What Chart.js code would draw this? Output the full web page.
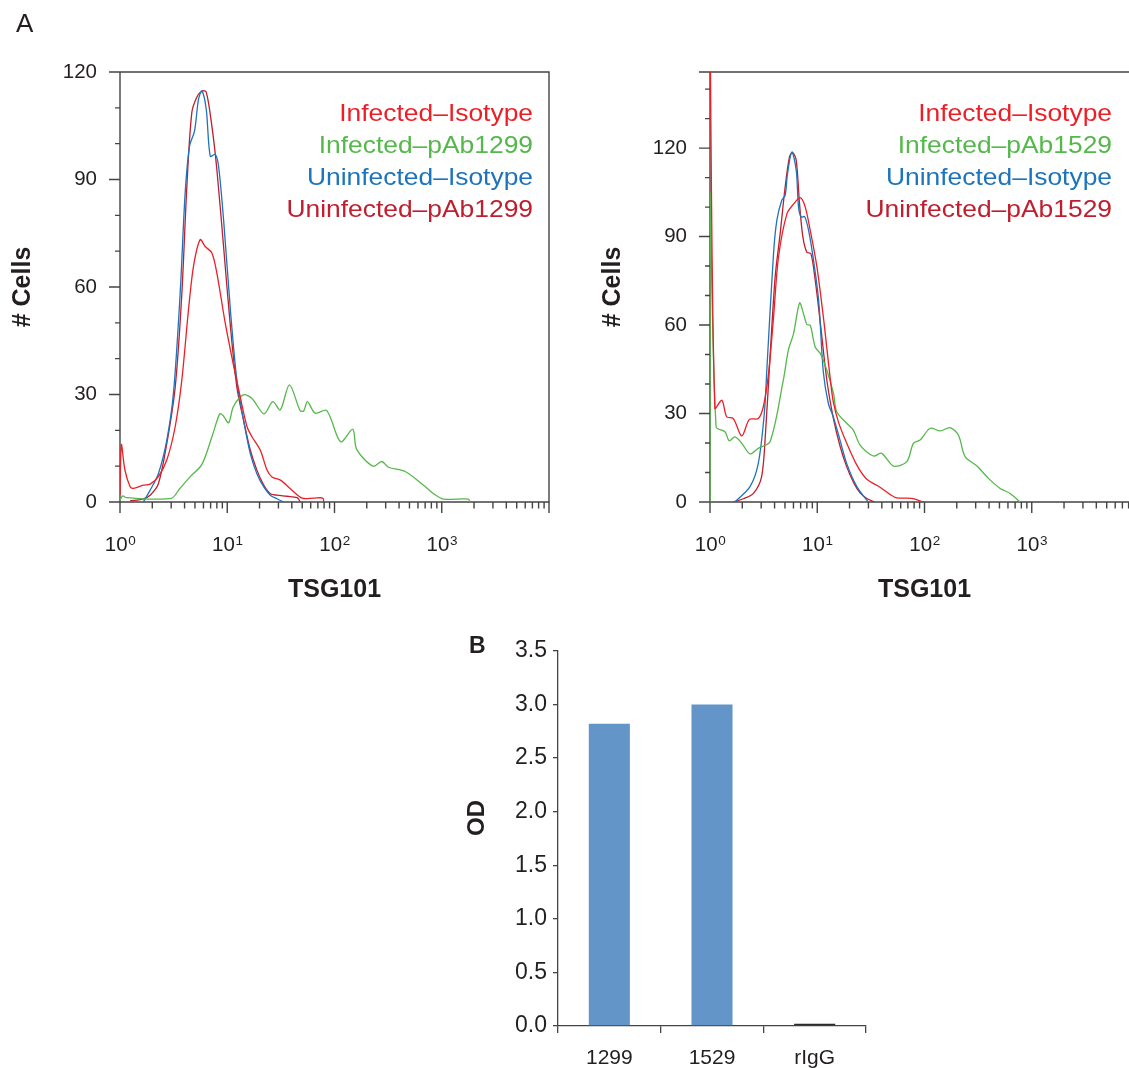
<!DOCTYPE html>
<html>
<head>
<meta charset="utf-8">
<script src="https://cdn.jsdelivr.net/npm/chart.js@4.4.1/dist/chart.umd.min.js"></script>
<style>
  html, body { margin:0; padding:0; background:#fff; }
  #wrap { position:relative; width:1129px; height:1068px; overflow:hidden; background:#fff; }
  .box { position:absolute; }
</style>
</head>
<body>
<div id="wrap">
  <div class="box" style="left:0px; top:0px; width:565px; height:620px"><canvas id="histA1"></canvas></div>
  <div class="box" style="left:590px; top:0px; width:565px; height:620px"><canvas id="histA2"></canvas></div>
  <div class="box" style="left:440px; top:630px; width:460px; height:438px"><canvas id="barB"></canvas></div>
</div>
<script>
// ---- data: panel A, left (pAb1299) ----
const seriesNames1299 = ['Infected\u2013Isotype', 'Infected\u2013pAb1299', 'Uninfected\u2013Isotype', 'Uninfected\u2013pAb1299']
const infIso1299X = [1.0, 1.03, 1.11, 1.24, 1.33, 1.65, 1.91, 2.28, 2.73, 3.27, 3.77, 4.35, 4.84, 5.59, 6.23, 7.19, 8.0, 9.58, 11.5, 13.2, 15.3, 17.0, 20.3, 23.5, 26.1, 31.3, 38.8, 49.9, 64, 77.8, 79.4]
const infIso1299Y = [2, 16, 9, 4.3, 3.8, 4.7, 5.0, 7.1, 11.7, 21, 34, 53.6, 65.7, 73.2, 71.3, 69.5, 63.9, 49.9, 37.8, 29.4, 21, 18.2, 14.5, 8.9, 7, 6.1, 3.7, 1.1, 1.1, 1.1, 0]
const infAb1299X = [1.0, 1.06, 1.15, 3.0, 3.6, 4.5, 5.8, 7.2, 8.5, 9.1, 10.3, 11.4, 14.1, 17.0, 22.0, 26.6, 31.2, 38.0, 47.8, 51.7, 55.9, 65.9, 84.7, 114, 148, 161, 228, 276, 319, 456, 675, 867, 1040, 1770, 1830]
const infAb1299Y = [0.5, 1.7, 1.2, 1.0, 3.7, 7.0, 10.5, 18.2, 24.6, 24.2, 22.1, 26.6, 29.9, 28.9, 24.6, 28.0, 25.7, 32.7, 25.5, 25.4, 28.0, 24.8, 25.5, 16.8, 20.3, 14.7, 10.0, 11.3, 9.7, 8.5, 4.7, 2.0, 0.8, 0.8, 0]
const uninfIso1299X = [1.65, 1.91, 2.28, 2.73, 3.15, 3.64, 4.05, 4.45, 4.95, 5.40, 5.80, 6.37, 6.94, 7.73, 8.30, 9.24, 10.7, 12.3, 14.2, 16.4, 18.9, 21.9, 25.2, 29.1, 33.6]
const uninfIso1299Y = [0, 3.3, 7.9, 17.2, 30.3, 58.3, 86.2, 99.3, 103.5, 112.4, 114.7, 109.6, 96.5, 97, 93.7, 78.8, 53.6, 34, 22.8, 13.5, 7.9, 4.2, 1.9, 0.9, 0]
const uninfAb1299X = [1.24, 1.65, 1.91, 2.28, 2.73, 3.27, 3.77, 4.20, 4.67, 5.21, 5.80, 6.37, 7.19, 8.0, 9.24, 10.7, 12.3, 14.2, 16.4, 18.9, 21.9, 25.2, 29.1, 36.1, 44.8, 48.1]
const uninfAb1299Y = [0.3, 0.9, 1.9, 5.1, 16.3, 32, 58, 88, 108.6, 113, 114.7, 114.4, 104.9, 92.8, 71.3, 49, 32, 22.8, 14.5, 8.9, 4.7, 2.3, 1.9, 1.6, 1.2, 0]

// ---- data: panel A, right (pAb1529) ----
const seriesNames1529 = ['Infected\u2013Isotype', 'Infected\u2013pAb1529', 'Uninfected\u2013Isotype', 'Uninfected\u2013pAb1529']
const infIso1529X = [1.0, 1.11, 1.29, 1.43, 1.65, 1.98, 2.33, 2.82, 3.14, 3.5, 3.9, 4.35, 5.21, 6.01, 6.94, 7.73, 8.61, 9.93, 11.5, 12.3, 13.2, 14.1, 15.8, 18.8, 23.4, 29.0, 38.5, 48.0, 55.0, 76.0, 98.0]
const infIso1529Y = [160, 31.8, 34.5, 28.9, 28.3, 22.4, 28.0, 28.3, 32.3, 43, 62, 83, 97.7, 101, 103.2, 100, 92, 79.7, 61.6, 52, 42, 34, 27, 20, 12.5, 7.7, 5, 2.5, 1.4, 1.2, 0]
const infAb1529X = [1.0, 1.0, 1.14, 1.38, 1.51, 1.71, 1.98, 2.36, 2.82, 3.63, 4.83, 5.38, 6.01, 6.84, 7.45, 8.0, 8.61, 9.58, 10.7, 12.3, 14.2, 15.2, 18.8, 21.7, 25.1, 33.4, 39.9, 51.3, 68.4, 78.8, 91, 113, 140, 173, 207, 239, 308, 395, 507, 629, 780]
const infAb1529Y = [0, 105, 25.5, 23.8, 20.7, 22.1, 19.9, 16.3, 18.2, 20.4, 41.4, 51.5, 57.1, 67.5, 63.8, 60.2, 59.9, 52.5, 50.3, 44.6, 36.7, 30.6, 26.7, 24.4, 19.3, 15.6, 16.5, 12.2, 13.7, 19.9, 21, 25.0, 24.1, 25.2, 22.7, 15.4, 12.2, 8.0, 4.6, 2.9, 0]
const uninfIso1529X = [1.71, 2.36, 2.82, 3.21, 3.39, 3.91, 4.2, 4.67, 5.02, 5.28, 5.80, 6.37, 6.69, 7.09, 7.62, 8.3, 9.24, 10.3, 11.4, 12.7, 14.1, 16.3, 18.8, 23.4, 29.0, 30.0]
const uninfIso1529Y = [0, 5.2, 13.1, 30.1, 45, 84.2, 95.5, 102.3, 104, 111.3, 118.6, 112.4, 100, 96.6, 96.8, 92.1, 81.9, 68.4, 44, 33.4, 28.9, 21, 13.1, 5.2, 0.6, 0]
const uninfAb1529X = [1.65, 2.05, 2.54, 3.03, 3.3, 3.64, 4.05, 4.51, 5.02, 5.51, 5.88, 6.37, 6.84, 7.35, 8.0, 8.73, 9.58, 10.7, 12.3, 14.2, 16.3, 18.8, 21.9, 25.2, 29.0, 34.0]
const uninfAb1529Y = [0, 1.1, 2.9, 8.6, 24, 50, 76.3, 91, 106.8, 117, 118.6, 115.8, 101, 89.8, 84.7, 84.2, 75.1, 60.5, 41.2, 28, 19, 12, 6.5, 3, 1.2, 0]

const decadeExponents = [0, 1, 2, 3]

// ---- data: panel B ----
const odLabels = ['1299', '1529', 'rIgG']
const odValues = [2.82, 3.0, 0.02]

const fam = '"Liberation Sans", Arial, Helvetica, sans-serif'
const textColor = '#231f20'
const axisColor = '#444444'
const curveColors = ['#ed1f26', '#55b84b', '#1d74bb', '#bf1e2e']
Chart.defaults.font.family = fam

const pts = (xs, ys) => xs.map((v, i) => ({ x: v, y: ys[i] }))

// frame, ticks, labels and legend for the histograms
const histDecor = {
  id: 'histDecor',
  beforeDatasetsDraw(chart, args, o) {
    const { ctx, chartArea: a } = chart
    ctx.save()
    ctx.strokeStyle = axisColor
    ctx.lineWidth = 1.4
    ctx.beginPath()
    ctx.moveTo(a.left - o.topExtend, a.top); ctx.lineTo(a.right, a.top)
    ctx.lineTo(a.right, a.bottom); ctx.lineTo(a.left, a.bottom)
    ctx.moveTo(a.left, a.top); ctx.lineTo(a.left, a.bottom)
    ctx.stroke()
    ctx.restore()
  },
  afterDraw(chart, args, o) {
    const { ctx, chartArea: a, scales: { x, y } } = chart
    ctx.save()
    ctx.strokeStyle = axisColor
    ctx.lineWidth = 1.4
    ctx.beginPath()
    for (let v = 0; v <= y.max; v += o.yStep) {
      const py = y.getPixelForValue(v)
      ctx.moveTo(a.left - (v % o.yMajor === 0 ? 11 : 5), py); ctx.lineTo(a.left, py)
    }
    for (let d = 0; d <= 4; d++) {
      for (let m = 1; m <= 9; m++) {
        const v = m * Math.pow(10, d)
        if (v > x.max * 1.001) continue
        const px = x.getPixelForValue(v)
        ctx.moveTo(px, a.bottom); ctx.lineTo(px, a.bottom + (m === 1 ? 11 : 6.5))
      }
    }
    ctx.stroke()

    ctx.fillStyle = textColor
    // y tick labels
    ctx.font = '20.5px ' + fam
    ctx.textAlign = 'right'; ctx.textBaseline = 'middle'
    for (let v = 0; v <= y.max; v += o.yMajor) {
      ctx.fillText(String(v), a.left - 23, y.getPixelForValue(v))
    }
    // x tick labels 10^n
    ctx.textAlign = 'left'; ctx.textBaseline = 'alphabetic'
    decadeExponents.forEach(d => {
      const px = x.getPixelForValue(Math.pow(10, d))
      ctx.font = '20.5px ' + fam
      const w1 = ctx.measureText('10').width
      ctx.font = '13.5px ' + fam
      const w2 = ctx.measureText(String(d)).width
      const left = px - (w1 + w2) / 2
      ctx.font = '20.5px ' + fam
      ctx.fillText('10', left, a.bottom + 49)
      ctx.font = '13.5px ' + fam
      ctx.fillText(String(d), left + w1 + 0.5, a.bottom + 42.5)
    })
    // axis titles
    ctx.font = 'bold 25px ' + fam
    ctx.textAlign = 'center'; ctx.textBaseline = 'middle'
    ctx.fillText('TSG101', (a.left + a.right) / 2, a.bottom + 88)
    ctx.save()
    ctx.translate(a.left - 97, (a.top + a.bottom) / 2)
    ctx.rotate(-Math.PI / 2)
    ctx.fillText('# Cells', 0, 0)
    ctx.restore()
    // legend text
    ctx.font = '24px ' + fam
    ctx.textAlign = 'right'; ctx.textBaseline = 'alphabetic'
    chart.data.datasets.forEach((ds, i) => {
      ctx.save()
      ctx.translate(o.legendRight, o.legendTop + i * 32)
      ctx.scale(1.1, 1)
      ctx.fillStyle = ds.borderColor
      ctx.fillText(ds.label, 0, 0)
      ctx.restore()
    })
    if (o.letter) {
      ctx.font = '26px ' + fam
      ctx.textAlign = 'left'
      ctx.fillText(o.letter, 16, 31.7)
    }
    ctx.restore()
  }
}

// free text (panel letter, rotated axis title) for the bar chart
const textItems = {
  id: 'textItems',
  afterDraw(chart, args, o) {
    const { ctx } = chart
    o.items.forEach(t => {
      ctx.save()
      ctx.fillStyle = textColor
      ctx.font = t.font
      ctx.textAlign = t.align
      ctx.textBaseline = t.baseline
      ctx.translate(t.x, t.y)
      if (t.rotate) ctx.rotate(t.rotate)
      ctx.fillText(t.text, 0, 0)
      ctx.restore()
    })
  }
}

function histChart(id, names, series, yMax, opts) {
  return new Chart(document.getElementById(id), {
    type: 'line',
    data: {
      datasets: series.map((s, i) => ({
        label: names[i],
        data: pts(s[0], s[1]),
        borderColor: curveColors[i],
        borderWidth: 1.3,
        pointRadius: 0,
        tension: 0.3,
        fill: false
      }))
    },
    options: {
      animation: false,
      responsive: true,
      maintainAspectRatio: false,
      layout: { padding: { left: 120, top: 72, right: 16, bottom: 118 } },
      plugins: {
        legend: { display: false },
        tooltip: { enabled: false },
        histDecor: opts
      },
      scales: {
        x: { type: 'logarithmic', min: 1, max: 10000, display: false },
        y: { type: 'linear', min: 0, max: yMax, display: false }
      }
    },
    plugins: [histDecor]
  })
}

histChart('histA1', seriesNames1299, [
  [infIso1299X, infIso1299Y],
  [infAb1299X, infAb1299Y],
  [uninfIso1299X, uninfIso1299Y],
  [uninfAb1299X, uninfAb1299Y]
], 120, { yStep: 10, yMajor: 30, topExtend: 0, legendRight: 533, legendTop: 121, letter: 'A' })

histChart('histA2', seriesNames1529, [
  [infIso1529X, infIso1529Y],
  [infAb1529X, infAb1529Y],
  [uninfIso1529X, uninfIso1529Y],
  [uninfAb1529X, uninfAb1529Y]
], 145.8, { yStep: 10, yMajor: 30, topExtend: 11, legendRight: 522, legendTop: 121, letter: '' })

new Chart(document.getElementById('barB'), {
  type: 'bar',
  data: {
    labels: odLabels,
    datasets: [{
      data: odValues,
      backgroundColor: ['#6395c9', '#6395c9', '#2b2b2b'],
      barPercentage: 0.4,
      categoryPercentage: 1
    }]
  },
  options: {
    animation: false,
    responsive: true,
    maintainAspectRatio: false,
    layout: { padding: { left: 0, top: 21, right: 34, bottom: 0 } },
    plugins: {
      legend: { display: false },
      tooltip: { enabled: false },
      textItems: {
        items: [
          { text: 'B', x: 29, y: 23, font: 'bold 23px ' + fam, align: 'left', baseline: 'alphabetic' },
          { text: 'OD', x: 37, y: 188, font: 'bold 24px ' + fam, align: 'center', baseline: 'middle', rotate: -Math.PI / 2 }
        ]
      }
    },
    scales: {
      x: {
        grid: { display: true, drawOnChartArea: false, tickLength: 7, color: axisColor, lineWidth: 1.3, offset: true },
        border: { color: axisColor, width: 1.3 },
        ticks: { font: { size: 21 }, color: textColor, padding: 13 },
        afterFit: s => { s.height = 42 }
      },
      y: {
        min: 0,
        max: 3.5,
        grid: { drawOnChartArea: false, tickLength: 5, color: axisColor, lineWidth: 1.3 },
        border: { color: axisColor, width: 1.3 },
        ticks: { stepSize: 0.5, font: { size: 23 }, color: textColor, padding: 6, callback: v => v.toFixed(1) },
        afterFit: s => { s.width = 118 }
      }
    }
  },
  plugins: [textItems]
})
</script>
</body>
</html>
